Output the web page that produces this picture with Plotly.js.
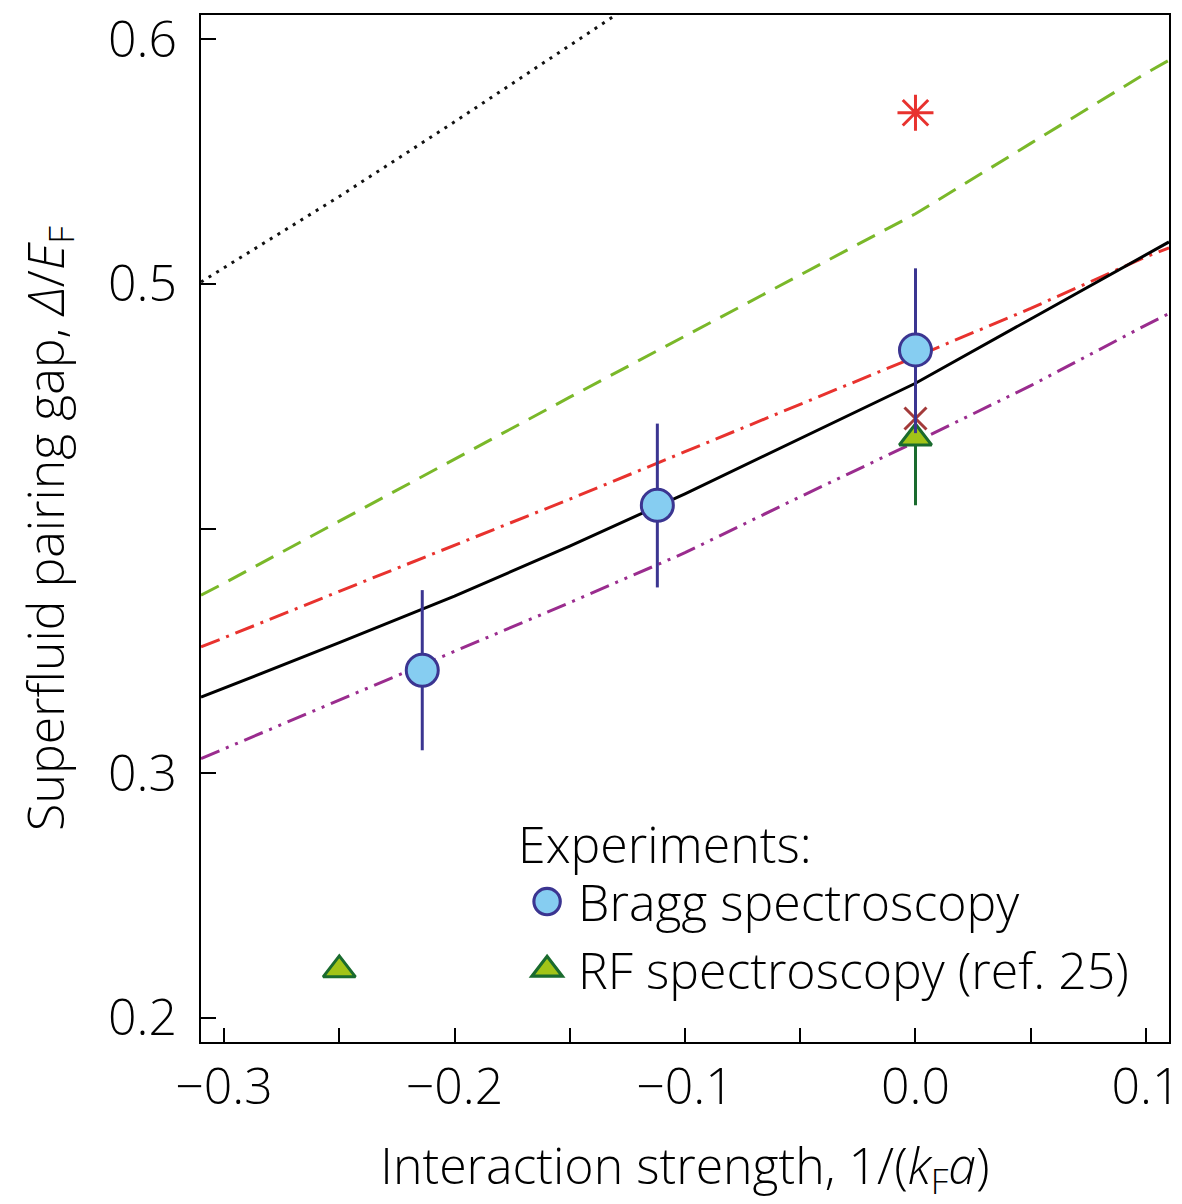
<!DOCTYPE html>
<html>
<head>
<meta charset="utf-8">
<script src="https://cdn.plot.ly/plotly-3.0.1.min.js"></script>
<style>html,body{margin:0;padding:0;background:#fff;}</style>
</head>
<body>
<div id="chart" style="width:1182px;height:1204px;"></div>
<script>
// Theory curves sampled along interaction strength 1/(kF a)
const xTheory = [-0.31, -0.3, -0.25, -0.2, -0.15, -0.1, -0.05, 0.0, 0.05, 0.1, 0.11];
const gapBlack  = [0.331, 0.3347, 0.3533, 0.3723, 0.3928, 0.4142, 0.4369, 0.4594, 0.4857, 0.5121, 0.5172];
const gapGreen  = [0.3727, 0.3776, 0.403, 0.4285, 0.4537, 0.4787, 0.5036, 0.5287, 0.5575, 0.5862, 0.5915];
const gapRed    = [0.3516, 0.3553, 0.3743, 0.3932, 0.412, 0.4314, 0.4508, 0.4702, 0.49, 0.5111, 0.5148];
const gapPurple = [0.3059, 0.3099, 0.3299, 0.3499, 0.3697, 0.3901, 0.413, 0.4354, 0.4584, 0.4832, 0.4879];
const xDotted   = [-0.31, -0.3, -0.25, -0.2, -0.15, -0.1];
const gapDotted = [0.5008, 0.5066, 0.5358, 0.5663, 0.5973, 0.6288];

// Experiments
const braggX = [-0.214, -0.112, 0.0];
const braggY = [0.342, 0.4095, 0.473];
const braggErrPlus  = [0.0328, 0.0334, 0.0334];
const braggErrMinus = [0.0327, 0.0336, 0.034];
const rfX = [-0.25, 0.0];
const rfY = [0.2195, 0.437];
const rfErr = [0, 0.0275];
const starX = [0.0];
const starY = [0.57];
const crossX = [0.0];
const crossY = [0.445];

// Tick labels
const xTickVals = [-0.3, -0.25, -0.2, -0.15, -0.1, -0.05, 0.0, 0.05, 0.1];
const xTickText = ['\u22120.3', '', '\u22120.2', '', '\u22120.1', '', '0.0', '', '0.1'];
const yTickVals = [0.2, 0.3, 0.4, 0.5, 0.6];
const yTickText = ['0.2', '0.3', '', '0.5', '0.6'];

const FONT = '"Open Sans", sans-serif';
const FS = 50;

const traces = [
  {x: xDotted, y: gapDotted, mode: 'lines', showlegend: false,
   line: {color: '#111', width: 3, dash: '3px,6px'}},
  {x: xTheory, y: gapGreen, mode: 'lines', showlegend: false,
   line: {color: '#7ab829', width: 3, dash: '20px,11px'}},
  {x: xTheory, y: gapRed, mode: 'lines', showlegend: false,
   line: {color: '#e8322e', width: 3, dash: '20px,7px,3px,7px'}},
  {x: xTheory, y: gapPurple, mode: 'lines', showlegend: false,
   line: {color: '#9a2c8e', width: 3, dash: '20px,7px,3px,7px,3px,7px'}},
  {x: xTheory, y: gapBlack, mode: 'lines', showlegend: false,
   line: {color: '#000', width: 3}},
  {x: rfX, y: rfY, mode: 'markers', name: 'RF spectroscopy (ref. 25)',
   error_y: {type: 'data', array: rfErr, symmetric: true, color: '#1a6b2e', thickness: 3, width: 0},
   marker: {symbol: 'triangle-up', size: 28, color: '#a2c418', line: {color: '#1a6b2e', width: 3}}},
  {x: crossX, y: crossY, mode: 'markers', showlegend: false,
   marker: {symbol: 'x-thin-open', size: 22, color: '#a33a3a', line: {color: '#a33a3a', width: 3}}},
  {x: starX, y: starY, mode: 'markers', showlegend: false,
   marker: {symbol: 'asterisk-open', size: 30, color: '#e8322e', line: {color: '#e8322e', width: 3}}},
  {x: braggX, y: braggY, mode: 'markers', name: 'Bragg spectroscopy',
   error_y: {type: 'data', array: braggErrPlus, arrayminus: braggErrMinus, symmetric: false, color: '#3b3591', thickness: 3, width: 0},
   marker: {symbol: 'circle', size: 32, color: '#86cdf1', line: {color: '#3b3591', width: 3}}}
];

const layout = {
  width: 1182, height: 1204,
  margin: {l: 201, r: 13, t: 15, b: 162},
  paper_bgcolor: '#fff', plot_bgcolor: '#fff',
  font: {family: FONT, color: '#000', size: FS, weight: 300},
  showlegend: true,
  legend: {
    x: 0.3255, y: 0.238, xanchor: 'left', yanchor: 'top',
    bgcolor: 'rgba(0,0,0,0)', borderwidth: 0,
    traceorder: 'reversed',
    title: {text: 'Experiments:', font: {family: FONT, size: FS, weight: 300}},
    font: {family: FONT, size: FS, weight: 300},
    itemwidth: 52, tracegroupgap: 0
  },
  xaxis: {
    range: [-0.31, 0.11], showgrid: false, zeroline: false,
    showline: true, mirror: true, linecolor: '#000', linewidth: 2,
    ticks: 'inside', ticklen: 14, tickwidth: 2, tickcolor: '#000',
    tickmode: 'array', tickvals: xTickVals, ticktext: xTickText,
    tickfont: {family: FONT, size: FS, weight: 300},
    title: {text: 'Interaction strength, 1/(<i>k</i><sub>F</sub><i>a</i>)', font: {family: FONT, size: FS, weight: 300}, standoff: 46}
  },
  yaxis: {
    range: [0.19, 0.61], showgrid: false, zeroline: false,
    showline: true, mirror: true, linecolor: '#000', linewidth: 2,
    ticks: 'inside', ticklen: 15, tickwidth: 2, tickcolor: '#000',
    tickmode: 'array', tickvals: yTickVals, ticktext: yTickText,
    tickfont: {family: FONT, size: FS, weight: 300},
    ticklabelstandoff: 12,
    title: {text: 'Superfluid pairing gap, <i>Δ</i>/<i>E</i><sub>F</sub>', font: {family: FONT, size: FS, weight: 300}, standoff: 28}
  }
};

Plotly.newPlot('chart', traces, layout, {displayModeBar: false, staticPlot: true}).then(function (gd) {
  // enlarge the legend symbols (Plotly caps legend marker size at 16)
  gd.querySelectorAll('.legend .legendpoints path.scatterpts').forEach(function (p) {
    const t = p.getAttribute('transform') || '';
    p.setAttribute('transform', t + ' scale(1.65)');
    p.style.strokeWidth = '1.9px';
  });
});
</script>
</body>
</html>
